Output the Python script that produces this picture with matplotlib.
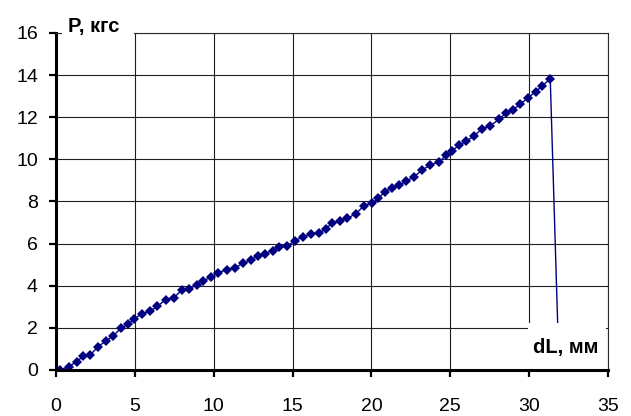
import matplotlib.pyplot as plt
from matplotlib.patches import Rectangle

plt.rcParams['font.family'] = ['Liberation Sans', 'DejaVu Sans']

# elongation dL, mm
dl = [0.0, 0.25, 0.82, 1.31, 1.73, 2.18, 2.66, 3.15, 3.61, 4.12,
      4.55, 4.97, 5.43, 5.94, 6.42, 6.96, 7.48, 7.97, 8.45, 8.92,
      9.34, 9.81, 10.29, 10.82, 11.35, 11.89, 12.37, 12.78, 13.27, 13.73,
      14.17, 14.67, 15.16, 15.68, 16.17, 16.68, 17.12, 17.52, 17.99, 18.47,
      19.02, 19.53, 20.06, 20.44, 20.86, 21.29, 21.75, 22.19, 22.70, 23.19,
      23.72, 24.31, 24.71, 25.11, 25.55, 26.00, 26.49, 27.00, 27.55, 28.09,
      28.55, 28.97, 29.44, 29.92, 30.41, 30.84, 31.34, 31.90]
# load P, kgf
p = [0.0, 0.0, 0.16, 0.39, 0.66, 0.71, 1.11, 1.36, 1.61, 1.98,
     2.17, 2.42, 2.67, 2.79, 3.02, 3.34, 3.43, 3.80, 3.85, 4.05,
     4.24, 4.40, 4.62, 4.76, 4.86, 5.07, 5.22, 5.41, 5.53, 5.67,
     5.83, 5.89, 6.14, 6.33, 6.44, 6.51, 6.70, 6.99, 7.06, 7.20,
     7.42, 7.80, 7.92, 8.15, 8.47, 8.63, 8.77, 8.96, 9.17, 9.48,
     9.73, 9.88, 10.19, 10.39, 10.68, 10.85, 11.10, 11.44, 11.60, 11.90,
     12.21, 12.36, 12.61, 12.92, 13.21, 13.49, 13.83, 0.0]

x_ticks = [0, 5, 10, 15, 20, 25, 30, 35]
y_ticks = [0, 2, 4, 6, 8, 10, 12, 14, 16]

fig = plt.figure(figsize=(6.31, 4.16), dpi=100)
ax = fig.add_axes([0.0887, 0.1106, 0.8748, 0.8101])

ax.plot(dl, p, color='#000080', lw=1, marker='D', markersize=4.6,
        markeredgewidth=0, zorder=2)

ax.set_xlim(0, 35)
ax.set_ylim(0, 16)
ax.set_xticks(x_ticks)
ax.set_yticks(y_ticks)
ax.grid(True, color='#1e1e1e', lw=0.8)

for side in ['left', 'bottom']:
    ax.spines[side].set_linewidth(2.2)
for side in ['top', 'right']:
    ax.spines[side].set_linewidth(0.8)
    ax.spines[side].set_color('#2a2a2a')

ax.tick_params(axis='both', direction='out', length=5, width=1.6,
               labelsize=14, color='black')
ax.tick_params(axis='y', pad=8)
ax.tick_params(axis='x', pad=15)

# white label boxes, as in the spreadsheet original
ax.add_patch(Rectangle((29.95, 0.0), 4.95, 2.23, facecolor='white',
                       edgecolor='none', zorder=2.2))
ax.add_patch(Rectangle((0.38, 15.67), 4.57, 1.3, facecolor='white',
                       edgecolor='none', zorder=3, clip_on=False))

ax.text(0.76, 16.05, 'P, кгс', fontsize=14.5, fontweight='bold',
        ha='left', va='baseline', zorder=4)
ax.text(30.25, 0.81, 'dL, мм', fontsize=14.5, fontweight='bold',
        ha='left', va='baseline', zorder=4)

fig.savefig('out.png', dpi=100)
